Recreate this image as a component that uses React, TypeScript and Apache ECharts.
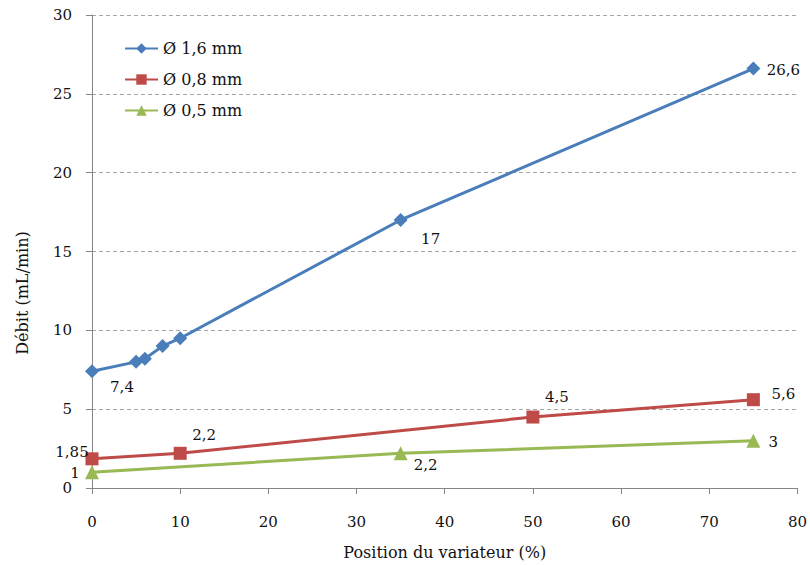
import React, { useEffect, useRef } from "react";
import * as echarts from "echarts";

const blueX = [0, 5, 6, 8, 10, 35, 75];
const blueY = [7.4, 8.0, 8.2, 9.0, 9.5, 17, 26.6];
const redX = [0, 10, 50, 75];
const redY = [1.85, 2.2, 4.5, 5.6];
const greenX = [0, 35, 75];
const greenY = [1, 2.2, 3];
const seriesNames = ["Ø 1,6 mm", "Ø 0,8 mm", "Ø 0,5 mm"];
const xTitle = "Position du variateur (%)";
const yTitle = "Débit (mL/min)";

const FONT = "DejaVu Serif";

// label offsets (px) per point index; null = no label
const blueLabelOffsets: (number[] | null)[] = [[30, 16], null, null, null, null, [30, 19], [30, 1]];
const redLabelOffsets: (number[] | null)[] = [[-20, -7], [24, -18], [24, -20], [30, -6]];
const greenLabelOffsets: (number[] | null)[] = [[-17, 1], [25, 12], [20, 1]];

const fmt = (v: number) => String(v).replace(".", ",");

function buildData(xs: number[], ys: number[], offs: (number[] | null)[]) {
  return xs.map((x, i) => {
    const off = offs[i];
    return {
      value: [x, ys[i]],
      label: off
        ? {
            show: true,
            position: "inside",
            offset: off,
            color: "#111",
            fontFamily: FONT,
            fontSize: 15,
            formatter: () => fmt(ys[i]),
          }
        : { show: false },
    };
  });
}

export default function App() {
  const ref = useRef<HTMLDivElement>(null);
  useEffect(() => {
    if (!ref.current) return;
    const chart = echarts.init(ref.current, undefined, { renderer: "svg" });
    const colors = ["#4A7EBB", "#BE4B48", "#98B954"];
    chart.setOption({
      animation: false,
      backgroundColor: "#ffffff",
      color: colors,
      textStyle: { fontFamily: FONT },
      grid: { left: 92, right: 10, top: 15, bottom: 77, containLabel: false },
      legend: {
        orient: "vertical",
        left: 119,
        top: 35,
        itemWidth: 33,
        itemHeight: 13,
        itemGap: 14,
        data: seriesNames,
        textStyle: { fontFamily: FONT, fontSize: 16, color: "#111", lineHeight: 17 },
      },
      xAxis: {
        type: "value",
        min: 0,
        max: 80,
        interval: 10,
        name: xTitle,
        nameLocation: "middle",
        nameGap: 56,
        nameTextStyle: { fontFamily: FONT, fontSize: 16, color: "#111" },
        axisLine: { show: true, lineStyle: { color: "#868686", width: 1 } },
        axisTick: { show: true, length: 6, lineStyle: { color: "#868686" } },
        axisLabel: { fontFamily: FONT, fontSize: 15, color: "#111", margin: 26 },
        splitLine: { show: false },
      },
      yAxis: {
        type: "value",
        min: 0,
        max: 30,
        interval: 5,
        axisLine: { show: true, lineStyle: { color: "#868686", width: 1 } },
        axisTick: { show: true, length: 6, lineStyle: { color: "#868686" } },
        axisLabel: { fontFamily: FONT, fontSize: 15, color: "#111", margin: 20 },
        splitLine: { show: true, lineStyle: { color: "#A6A6A6", type: [4, 3], width: 1 } },
      },
      graphic: [
        {
          type: "text",
          x: 22,
          y: 293,
          rotation: Math.PI / 2,
          style: {
            text: yTitle,
            fontFamily: FONT,
            fontSize: 16,
            fill: "#111",
            textAlign: "center",
            textVerticalAlign: "middle",
          },
        },
      ],
      series: [
        {
          name: seriesNames[0],
          type: "line",
          symbol: "diamond",
          symbolSize: 14,
          lineStyle: { width: 3, color: colors[0] },
          itemStyle: { color: colors[0] },
          data: buildData(blueX, blueY, blueLabelOffsets),
          z: 4,
        },
        {
          name: seriesNames[1],
          type: "line",
          symbol: "rect",
          symbolSize: 13,
          lineStyle: { width: 3, color: colors[1] },
          itemStyle: { color: colors[1] },
          data: buildData(redX, redY, redLabelOffsets),
          z: 3,
        },
        {
          name: seriesNames[2],
          type: "line",
          symbol: "triangle",
          symbolSize: 14,
          lineStyle: { width: 3, color: colors[2] },
          itemStyle: { color: colors[2] },
          data: buildData(greenX, greenY, greenLabelOffsets),
          z: 2,
        },
      ],
    });
    return () => chart.dispose();
  }, []);
  return (
    <div
      ref={ref}
      style={{ position: "absolute", left: 0, top: 0, width: 810, height: 565 }}
    />
  );
}
